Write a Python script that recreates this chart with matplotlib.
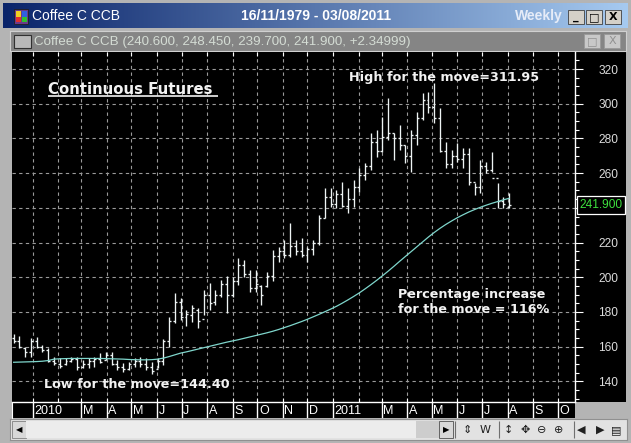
import numpy as np
import pandas as pd
import matplotlib
matplotlib.use("Agg")
import matplotlib.pyplot as plt
import matplotlib.dates as mdates
from matplotlib.patches import Rectangle
from matplotlib.ticker import MultipleLocator

# =====================================================
# DATA (weekly Coffee C continuous futures)
# =====================================================
first_week = "2009-12-09"

opens = [165, 163, 159, 157, 163, 160, 158, 152, 150, 150, 152, 153, 148, 150, 152, 153,
         152.5, 155, 150, 148, 147, 150, 152, 150, 148, 147, 152, 163, 175, 186, 177, 178,
         181, 176, 190, 186, 190, 196, 190, 198, 207, 202, 194, 195, 195, 201, 212, 215,
         213, 218, 215, 213, 216, 220, 234, 246, 242, 248, 241, 245, 252, 259, 264, 278,
         273, 281, 283, 280, 276, 270, 282, 292, 302, 298, 292, 273, 265, 270, 268, 271,
         255, 252, 264, 262, 257, 244, 240.6]
highs = [167.3, 166.3, 160.0, 165.1, 165.3, 160.9, 159.4, 154.2, 153.4, 153.4, 154.2, 153.8,
         152.3, 153.4, 154.2, 156.1, 157.0, 157.0, 152.3, 150.4, 151.3, 153.3, 154.2, 153.3,
         151.3, 153.3, 164.2, 177.2, 190.7, 187.8, 181.0, 184.0, 182.0, 192.6, 196.7, 192.6,
         198.4, 201.0, 200.0, 211.0, 210.0, 204.0, 204.0, 195.5, 203.0, 215.6, 217.4, 221.4,
         231.2, 221.4, 222.6, 217.4, 221.4, 235.9, 251.4, 251.4, 250.3, 254.6, 251.4, 256.0,
         263.0, 265.8, 283.0, 284.8, 292.3, 303.3, 283.0, 287.7, 276.0, 284.8, 295.2, 306.0,
         306.7, 311.95, 297.5, 278.0, 273.3, 277.4, 274.5, 274.5, 254.3, 267.5, 266.4, 272.2,
         254.3, 246.0, 248.45]
lows = [162.0, 159.0, 154.2, 154.2, 159.0, 157.0, 151.3, 149.4, 147.5, 149.4, 151.3, 146.6,
        147.5, 147.5, 148.5, 150.4, 152.3, 149.4, 146.6, 145.5, 146.6, 148.4, 148.4, 146.6,
        144.40, 147.5, 149.4, 160.0, 173.4, 175.4, 172.0, 174.0, 171.0, 178.0, 181.0, 184.0,
        188.6, 179.4, 188.6, 195.5, 200.0, 191.5, 191.5, 184.0, 194.4, 198.0, 208.8, 211.0,
        211.6, 212.8, 211.6, 208.8, 212.8, 218.6, 234.1, 240.5, 240.0, 240.5, 237.0, 240.5,
        249.0, 256.0, 261.8, 269.3, 272.2, 279.0, 267.5, 273.3, 265.8, 260.6, 276.0, 290.6,
        294.6, 288.9, 272.0, 263.0, 263.0, 266.4, 263.0, 253.0, 247.4, 248.5, 260.0, 260.6,
        240.0, 240.0, 239.7]
closes = [163, 160, 157, 163, 160, 158, 152, 150.5, 149, 152, 153, 148, 150, 152, 153, 151,
          155, 150, 148, 147, 150, 152, 150, 148, 146, 152, 163, 175, 186, 177, 179, 182,
          175, 190, 185, 190, 196, 190, 198, 207, 202, 194, 196, 190, 201, 212, 215, 213,
          218, 215, 213, 216, 220, 234, 246, 242, 248, 241, 245, 252, 259, 264, 278, 273,
          281, 283, 280, 276, 270, 282, 292, 302, 298, 292, 273, 265, 270, 268, 271, 255,
          252, 264, 262, 257, 244, 242, 241.9]
ma_values = [151.0, 151.1, 151.2, 151.3, 151.4, 151.6, 152.0, 152.8, 153.0, 153.1, 153.2,
             153.2, 153.2, 153.2, 153.2, 153.2, 153.1, 153.0, 152.9, 152.8, 152.6, 152.5,
             152.4, 152.4, 152.5, 152.8, 153.4, 154.3, 155.3, 156.3, 157.0, 157.8, 158.6,
             159.4, 160.2, 161.0, 161.8, 162.6, 163.3, 164.0, 164.8, 165.6, 166.4, 167.2,
             168.0, 168.9, 169.9, 171.0, 172.1, 173.3, 174.5, 175.8, 177.2, 178.6, 180.1,
             181.6, 183.2, 185.0, 186.9, 188.9, 191.0, 193.3, 195.7, 198.2, 200.8, 203.5,
             206.3, 209.2, 212.0, 214.8, 217.6, 220.4, 223.2, 225.8, 228.2, 230.4, 232.4,
             234.3, 236.0, 237.6, 239.0, 240.3, 241.5, 242.6, 243.6, 244.6, 245.5]

month_starts = pd.date_range("2010-01-01", "2011-10-01", freq="MS")
month_labels = ["2010", "", "M", "A", "M", "J", "J", "A", "S", "O", "N", "D",
                "2011", "", "M", "A", "M", "J", "J", "A", "S", "O"]
price_ticks = [140, 160, 180, 200, 220, 240, 260, 280, 300, 320]
last_price = 241.900
x_range = ("2009-12-07", "2011-10-22")
y_range = (128.1, 329.8)

# =====================================================
# STYLE
# =====================================================
W, H = 631, 443
BAR_COL = "#eef4f4"
MA_COL = "#7fd6cc"
GRID_COL = "#9a9a9a"
TXT_COL = "#f2f2f2"
FONT = "Liberation Sans"


def px(x0, y0, x1, y1):
    # pixel box (from top-left) -> figure fraction rect
    return [x0 / W, 1 - y1 / H, (x1 - x0) / W, (y1 - y0) / H]


fig = plt.figure(figsize=(W / 100, H / 100), dpi=100, facecolor="#b4b4b4")

# =====================================================
# WINDOW TITLE BAR
# =====================================================
tb = fig.add_axes(px(3, 3, 628, 28))
tb.imshow(np.linspace(0, 1, 256).reshape(1, -1), aspect="auto", extent=(0, 1, 0, 1),
          cmap=matplotlib.colors.LinearSegmentedColormap.from_list("tb", ["#0a246a", "#a6caf0"]))
tb.set_axis_off()
fig.patches.append(Rectangle((14 / W, 1 - 24 / H), 14 / W, 15 / H, transform=fig.transFigure,
                             facecolor="#6a3a8a", edgecolor="#202020", lw=0.6, zorder=2))
for i, c in enumerate(["#e03030", "#30c030", "#f0d020", "#3060e0"]):
    fig.patches.append(Rectangle(((16 + (i % 2) * 5.5) / W, 1 - (22 - (i // 2) * 5.5) / H),
                                 5 / W, 5 / H, transform=fig.transFigure, facecolor=c, lw=0,
                                 zorder=3))
fig.text(32 / W, 1 - 16 / H, "Coffee C CCB", color="white", fontsize=10, family=FONT,
         va="center")
fig.text(316 / W, 1 - 16 / H, "16/11/1979 - 03/08/2011", color="white", fontsize=10,
         family=FONT, weight="bold", va="center", ha="center")
fig.text(563 / W, 1 - 16 / H, "Weekly", color="#e6ecf8", fontsize=10, family=FONT,
         weight="bold", va="center", ha="right")
for bx, glyph in [(568, "_"), (586, "□"), (605, "X")]:
    fig.patches.append(Rectangle((bx / W, 1 - 24 / H), 16 / W, 14 / H, transform=fig.transFigure,
                                 facecolor="#d4d0c8", edgecolor="#404040", lw=0.6, zorder=2))
    fig.text((bx + 8) / W, 1 - 17 / H, glyph, fontsize=8, weight="bold", ha="center",
             va="center", color="black")

# =====================================================
# SUB WINDOW BAR
# =====================================================
sb = fig.add_axes(px(10, 31, 626, 51), facecolor="#858585")
sb.set_xticks([])
sb.set_yticks([])
for s in sb.spines.values():
    s.set_color("#d0d0d0")
fig.patches.append(Rectangle((14 / W, 1 - 48 / H), 17 / W, 13 / H, transform=fig.transFigure,
                             facecolor="#b8b8b8", edgecolor="#303030", lw=0.8, zorder=2))
fig.text(34 / W, 1 - 41.5 / H,
         f"Coffee C CCB ({opens[-1]:.3f}, {highs[-1]:.3f}, {lows[-1]:.3f}, {closes[-1]:.3f}, +2.34999)",
         color="#d4dcd4", fontsize=9.6, family=FONT, va="center")
for bx in [584, 604]:
    fig.patches.append(Rectangle((bx / W, 1 - 48 / H), 16 / W, 14 / H, transform=fig.transFigure,
                                 facecolor="#c8c8c8", edgecolor="#9a9a9a", lw=0.6, zorder=2))
fig.text(592 / W, 1 - 41 / H, "□", fontsize=8, ha="center", va="center", color="#909090")
fig.text(612 / W, 1 - 41 / H, "X", fontsize=8, ha="center", va="center", color="#909090")

# black panel behind right price axis (drawn under the axes)
fig.patches.append(Rectangle((575 / W, 1 - 402 / H), 51 / W, 350 / H, transform=fig.transFigure,
                             facecolor="black", lw=0, zorder=-5))

# =====================================================
# MAIN PRICE CHART
# =====================================================
ax = fig.add_axes(px(12, 52, 575, 402), facecolor="black")
ax.set_zorder(1)
x = mdates.date2num(pd.date_range(first_week, periods=len(highs), freq="7D"))

ax.vlines(x, lows, highs, color=BAR_COL, lw=0.95, zorder=3)
ax.hlines(opens, x - 2.4, x, color=BAR_COL, lw=0.95, zorder=3)
ax.hlines(closes, x, x + 2.4, color=BAR_COL, lw=0.95, zorder=3)
ax.plot(x, ma_values, color=MA_COL, lw=0.9, zorder=4)

ax.set_xlim(mdates.datestr2num(x_range[0]), mdates.datestr2num(x_range[1]))
ax.set_ylim(*y_range)
ax.set_xticks(mdates.date2num(month_starts))
ax.set_yticks(price_ticks)
ax.yaxis.set_minor_locator(MultipleLocator(5))
ax.grid(True, which="major", color=GRID_COL, ls=(0, (3, 3)), lw=0.8, zorder=1)
ax.yaxis.tick_right()
ax.tick_params(axis="y", which="major", direction="out", length=5.8, width=0.8,
               color="white", labelcolor="#dcdcdc", labelsize=8.6, pad=11)
ax.tick_params(axis="y", which="minor", direction="out", length=3, width=0.8, color="white")
for lab in ax.get_yticklabels():
    lab.set_family(FONT)
ax.tick_params(axis="x", which="major", direction="in", length=3, width=0.8, color="white",
               top=True, bottom=True, labelbottom=False)
for side in ["top", "left"]:
    ax.spines[side].set_visible(False)
for side in ["right", "bottom"]:
    ax.spines[side].set_color("white")
    ax.spines[side].set_linewidth(1)

# last price box (covers the 240 label as in the platform)
ax.annotate(f"{last_price:.3f}", xy=(1.008, last_price), xycoords=("axes fraction", "data"),
            ha="left", va="center", fontsize=8.6, family=FONT, color="#3ee03e", zorder=10,
            bbox=dict(boxstyle="square,pad=0.25", fc="black", ec="white", lw=0.9),
            annotation_clip=False)

# annotations
ax.text(36 / 563, 1 - (89 - 52) / 350, "Continuous Futures", transform=ax.transAxes,
        color=TXT_COL, fontsize=10.7, weight="bold", family="DejaVu Sans", va="center")
ax.plot([36 / 563, 206 / 563], [1 - (96 - 52) / 350] * 2, transform=ax.transAxes,
        color=TXT_COL, lw=1.2, solid_capstyle="butt")
ax.text(337 / 563, 1 - (78 - 52) / 350, "High for the move=311.95", transform=ax.transAxes,
        color=TXT_COL, fontsize=9.2, weight="bold", family="DejaVu Sans", va="center")
ax.text(32 / 563, 1 - (384 - 52) / 350, "Low for the move=144.40", transform=ax.transAxes,
        color=TXT_COL, fontsize=9.2, weight="bold", family="DejaVu Sans", va="center")
ax.text(386 / 563, 1 - (302 - 52) / 350, "Percentage increase\nfor the move = 116%",
        transform=ax.transAxes, color=TXT_COL, fontsize=9.2, weight="bold",
        family="DejaVu Sans", va="center", linespacing=1.25)

# =====================================================
# MONTH LABEL STRIP
# =====================================================
axd = fig.add_axes(px(12, 402, 575, 418), facecolor="black")
axd.set_xlim(ax.get_xlim())
axd.set_ylim(0, 1)
for d, lab in zip(month_starts, month_labels):
    if lab:
        dn = mdates.date2num(d)
        axd.vlines(dn, 0, 1, color="white", lw=1)
        axd.text(dn + 2, 0.45, lab, color="white", fontsize=9, family=FONT,
                 va="center", ha="left")
axd.set_xticks([])
axd.set_yticks([])
for side in ["top", "right", "bottom"]:
    axd.spines[side].set_visible(False)
axd.spines["left"].set_color("white")

# =====================================================
# SCROLL BAR / TOOLBAR
# =====================================================
sc = fig.add_axes(px(10, 419, 627, 440), facecolor="#e2e2e2")
sc.set_xlim(10, 627)
sc.set_ylim(0, 1)
sc.set_xticks([])
sc.set_yticks([])
for s in sc.spines.values():
    s.set_color("#909090")
sc.add_patch(Rectangle((12, 0.08), 14, 0.84, facecolor="#d8d8d8", edgecolor="#808080", lw=0.6))
sc.text(19, 0.48, "◀", fontsize=6, ha="center", va="center", color="black")
sc.add_patch(Rectangle((26, 0.08), 390, 0.84, facecolor="#ececec", lw=0))
sc.add_patch(Rectangle((416, 0.08), 23, 0.84, facecolor="#cdcdcd", lw=0))
sc.add_patch(Rectangle((439, 0.08), 14, 0.84, facecolor="#d8d8d8", edgecolor="#505050", lw=0.6))
sc.text(446, 0.48, "▶", fontsize=6, ha="center", va="center", color="black")
for sx in [455, 499, 574]:
    sc.vlines(sx, 0.1, 0.9, color="#707070", lw=0.8)
for ix, glyph in [(467, "⇕"), (485, "W"), (508, "↕"), (525, "✥"), (542, "⊖"),
                  (559, "⊕"), (581, "◀"), (600, "▶"), (616, "▤")]:
    sc.text(ix, 0.48, glyph, fontsize=8, ha="center", va="center", color="#202020")

fig.savefig("out.png", dpi=100, facecolor=fig.get_facecolor())
